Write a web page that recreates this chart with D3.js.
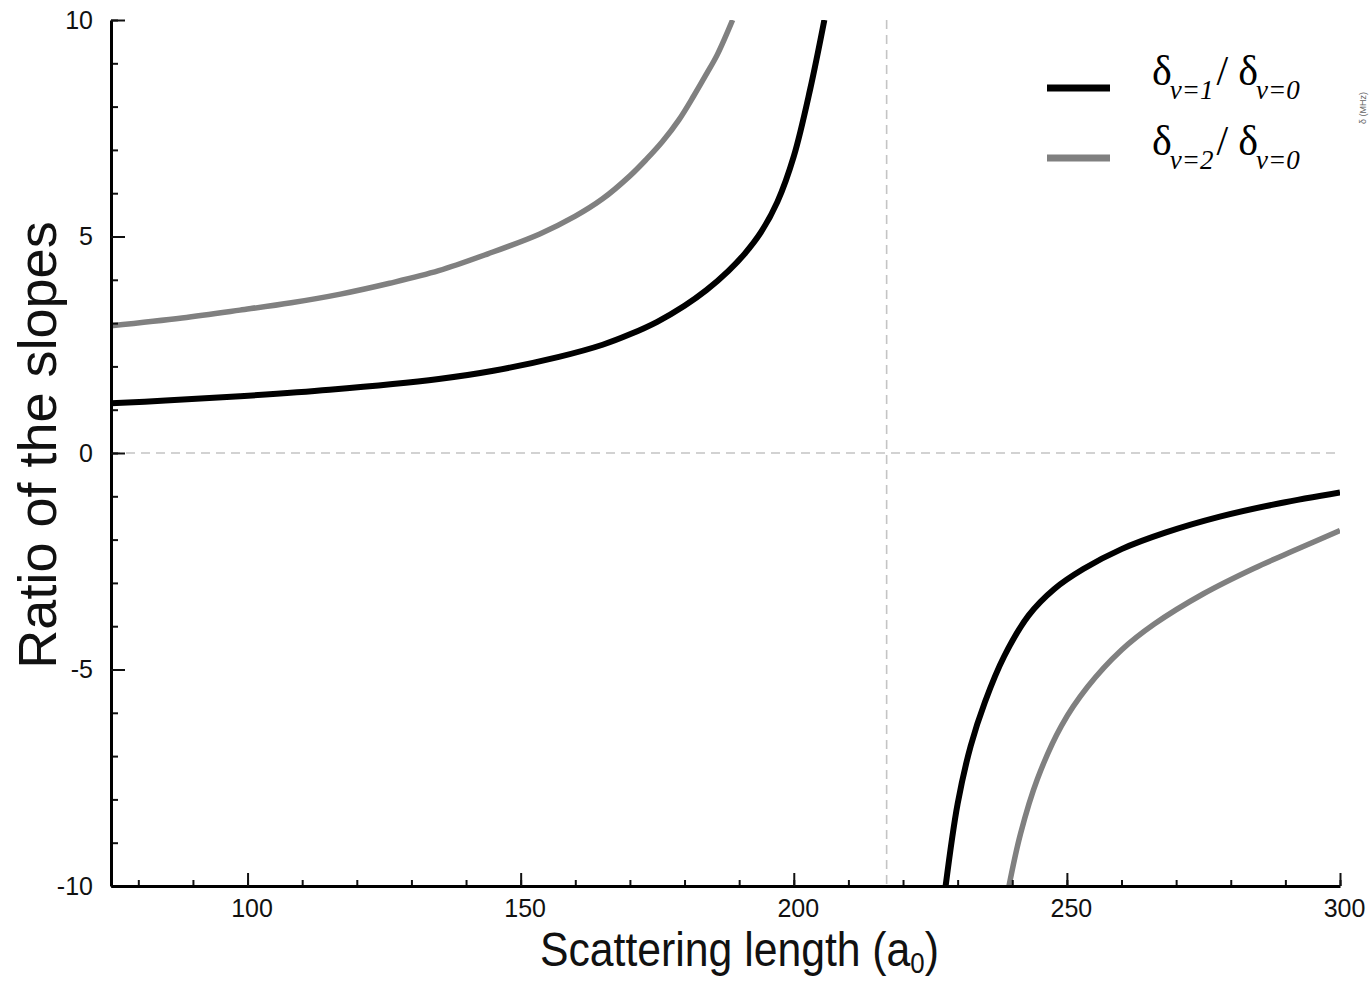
<!DOCTYPE html>
<html>
<head>
<meta charset="utf-8">
<script src="https://cdn.jsdelivr.net/npm/d3@7"></script>
<style>
  body { margin: 0; background: #fff; }
  .axis text { font-family: "Liberation Sans", Arial, sans-serif; font-size: 25px; fill: #111; }
</style>
</head>
<body>
<svg id="chart" width="1370" height="981"></svg>
<script>
// axis ranges and ticks
const xDomain = [75, 300];
const yDomain = [-10, 10];
const xMajor = [100, 150, 200, 250, 300];
const xMinor = d3.range(80, 301, 10);
const yMajor = [-10, -5, 0, 5, 10];
const yMinor = d3.range(-10, 11, 1);
const poleX = 217; // dashed vertical line (resonance)

// delta(v=1)/delta(v=0), two branches
const v1Left = [[75,1.15],[85,1.21],[98.6,1.31],[115,1.46],[135,1.71],[145,1.9],[157,2.22],[165,2.5],
  [170,2.74],[175,3.03],[180,3.4],[184,3.76],[188,4.2],[191,4.6],[194,5.1],[197,5.8],[200,6.85],[203,8.4],[205.6,10]];
const v1Right = [[227.8,-10],[230,-8.1],[232.4,-6.76],[235,-5.75],[238.5,-4.7],[243,-3.75],[247.7,-3.14],
  [253,-2.68],[260,-2.22],[268,-1.84],[278,-1.47],[289,-1.16],[300,-0.91]];

// delta(v=2)/delta(v=0), two branches
const v2Left = [[75,2.94],[88,3.12],[98.6,3.3],[108,3.47],[117,3.67],[126,3.92],[135,4.21],[144,4.6],
  [153.5,5.06],[160,5.47],[165,5.87],[170,6.4],[173,6.78],[176,7.2],[179,7.7],[181.7,8.25],[184,8.75],[186,9.2],[188.8,10]];
const v2Right = [[239.4,-10],[241.5,-8.8],[244.6,-7.53],[249,-6.3],[253.8,-5.4],[260,-4.55],[266,-3.95],
  [275,-3.25],[284.3,-2.66],[292,-2.23],[300,-1.79]];

const svg = d3.select("#chart");
const plotL = 111, plotR = 1340, plotT = 20, plotB = 886;

const x = d3.scaleLinear().domain(xDomain).range([plotL, plotR]);
const y = d3.scaleLinear().domain(yDomain).range([plotB, plotT]);

svg.append("defs").append("clipPath").attr("id", "plotClip")
  .append("rect").attr("x", plotL).attr("y", plotT).attr("width", plotR - plotL).attr("height", plotB - plotT);

// dashed reference lines
svg.append("line")
  .attr("x1", x(xDomain[0])).attr("x2", x(xDomain[1]))
  .attr("y1", y(0)).attr("y2", y(0))
  .attr("stroke", "#c4c4c4").attr("stroke-width", 1.6).attr("stroke-dasharray", "9,6");
svg.append("line")
  .attr("x1", x(poleX)).attr("x2", x(poleX))
  .attr("y1", y(yDomain[1])).attr("y2", y(yDomain[0]))
  .attr("stroke", "#c4c4c4").attr("stroke-width", 1.6).attr("stroke-dasharray", "9,6");

// curves
const line = d3.line().x(d => x(d[0])).y(d => y(d[1])).curve(d3.curveCatmullRom.alpha(0.5));
const plot = svg.append("g").attr("clip-path", "url(#plotClip)");
const series = [
  {data: v2Left, color: "#808080", w: 5.5},
  {data: v2Right, color: "#808080", w: 5.5},
  {data: v1Left, color: "#000", w: 6},
  {data: v1Right, color: "#000", w: 6}
];
series.forEach(s => {
  plot.append("path").datum(s.data)
    .attr("d", line)
    .attr("fill", "none")
    .attr("stroke", s.color)
    .attr("stroke-width", s.w);
});

// axes: minor ticks first, then major with labels
const plain = d => String(d); // keep the plain hyphen of the original
svg.append("g").attr("class", "axis")
  .attr("transform", "translate(" + plotL + ",0)")
  .call(d3.axisLeft(y).tickValues(yMinor).tickSize(-7).tickSizeOuter(0).tickFormat(""))
  .call(g => g.select(".domain").remove())
  .selectAll("line").attr("stroke", "#111").attr("stroke-width", 2);

const yAx = svg.append("g").attr("class", "axis")
  .attr("transform", "translate(" + plotL + ",0)")
  .call(d3.axisLeft(y).tickValues(yMajor).tickSize(-14).tickSizeOuter(0).tickPadding(18).tickFormat(plain));
yAx.select(".domain").attr("stroke", "#000").attr("stroke-width", 3);
yAx.selectAll(".tick line").attr("stroke", "#111").attr("stroke-width", 2);

svg.append("g").attr("class", "axis")
  .attr("transform", "translate(0," + plotB + ")")
  .call(d3.axisBottom(x).tickValues(xMinor).tickSize(-6).tickSizeOuter(0).tickFormat(""))
  .call(g => g.select(".domain").remove())
  .selectAll("line").attr("stroke", "#111").attr("stroke-width", 2);

const xAx = svg.append("g").attr("class", "axis")
  .attr("transform", "translate(0," + plotB + ")")
  .call(d3.axisBottom(x).tickValues(xMajor).tickSize(-13).tickSizeOuter(0).tickPadding(13).tickFormat(plain));
xAx.select(".domain").attr("stroke", "#000").attr("stroke-width", 3);
xAx.selectAll(".tick line").attr("stroke", "#111").attr("stroke-width", 2);
xAx.selectAll(".tick text").attr("dx", 4);

// axis titles (x title is horizontally condensed in the original)
const xTitle = svg.append("g")
  .attr("transform", "translate(540,966) scale(0.89,1)")
  .append("text")
  .style("font-family", "Liberation Sans, Arial, sans-serif")
  .style("font-size", "48px").attr("fill", "#111");
xTitle.append("tspan").text("Scattering length (a");
xTitle.append("tspan").attr("dy", 7).style("font-size", "29px").text("0");
xTitle.append("tspan").attr("dy", -7).text(")");

svg.append("text")
  .attr("transform", "translate(56,445) rotate(-90)")
  .attr("text-anchor", "middle")
  .style("font-family", "Liberation Sans, Arial, sans-serif")
  .style("font-size", "54px").attr("fill", "#111")
  .text("Ratio of the slopes");

// legend
const legend = [
  {label: "1", color: "#000", y: 88},
  {label: "2", color: "#808080", y: 158}
];
legend.forEach(l => {
  svg.append("line")
    .attr("x1", 1047).attr("x2", 1110).attr("y1", l.y).attr("y2", l.y)
    .attr("stroke", l.color).attr("stroke-width", 7);
  const t = svg.append("text")
    .attr("x", 1152).attr("y", l.y - 3)
    .style("font-family", "Liberation Serif, Times New Roman, serif")
    .style("font-size", "42px").attr("fill", "#000");
  t.append("tspan").text("δ");
  t.append("tspan").attr("dx", -2).attr("dy", 14).style("font-size", "27px").style("font-style", "italic").text("v=" + l.label);
  t.append("tspan").attr("dx", 3).attr("dy", -14).text("/");
  t.append("tspan").attr("dx", 10).text("δ");
  t.append("tspan").attr("dx", -2).attr("dy", 14).style("font-size", "27px").style("font-style", "italic").text("v=0");
});

// clipped leftover label at the right edge of the original figure
svg.append("text")
  .attr("transform", "translate(1366,108) rotate(-90)")
  .attr("text-anchor", "middle")
  .style("font-family", "Liberation Sans, Arial, sans-serif")
  .style("font-size", "9px").attr("fill", "#666")
  .text("δ (MHz)");
</script>
</body>
</html>
